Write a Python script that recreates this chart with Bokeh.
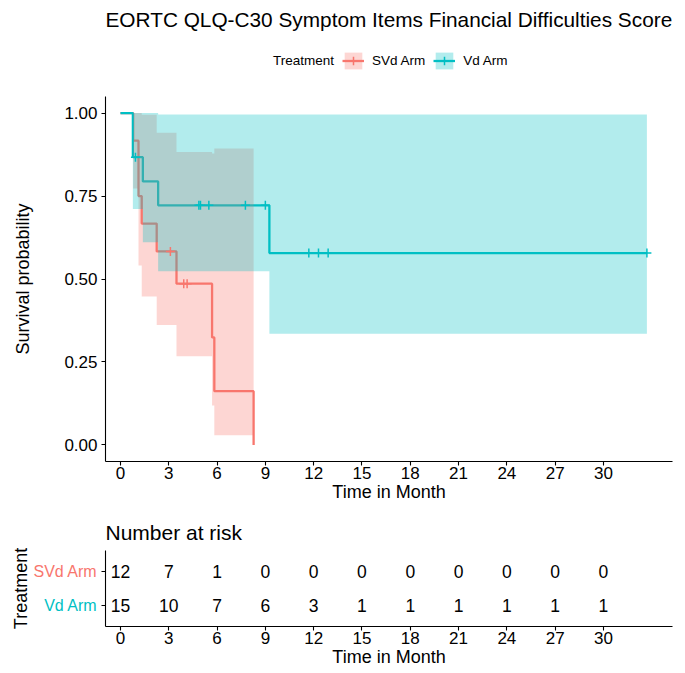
from bokeh.plotting import figure
from bokeh.models import Range1d, FixedTicker, Legend, LegendItem, NumeralTickFormatter
from bokeh.layouts import column, row
from bokeh.embed import file_html
from bokeh.resources import INLINE
from bokeh.core.properties import value

FONT = "Liberation Sans"
RED = "#F8766D"
TEAL = "#00BFC4"

groups = ["SVd Arm", "Vd Arm"]
colors = [RED, TEAL]

# SVd Arm: Kaplan-Meier steps (time in months, survival, 95% CI)
svd_time = [0, 0.79, 1.12, 1.32, 2.25, 3.48, 5.69, 5.83, 8.27]
svd_surv = [1.0, 0.917, 0.750, 0.667, 0.583, 0.486, 0.324, 0.162, 0.0]
svd_lower = [1.0, 0.773, 0.541, 0.447, 0.361, 0.267, 0.119, 0.029]
svd_upper = [1.0, 1.0, 1.0, 0.995, 0.941, 0.883, 0.878, 0.893]
svd_cens_time = [3.10, 3.93, 4.14]
svd_cens_surv = [0.583, 0.486, 0.486]

# Vd Arm
vd_time = [0, 0.77, 1.39, 2.34, 9.25, 32.7]
vd_surv = [1.0, 0.867, 0.794, 0.722, 0.578, 0.578]
vd_lower = [1.0, 0.711, 0.611, 0.523, 0.335]
vd_upper = [1.0, 1.0, 1.0, 0.996, 0.996]
vd_cens_time = [0.93, 4.87, 4.97, 5.49, 7.76, 9.0, 11.7, 12.3, 12.9, 32.7]
vd_cens_surv = [0.867, 0.722, 0.722, 0.722, 0.722, 0.722, 0.578, 0.578, 0.578, 0.578]

# Number at risk table
risk_times = [0, 3, 6, 9, 12, 15, 18, 21, 24, 27, 30]
svd_risk = [12, 7, 1, 0, 0, 0, 0, 0, 0, 0, 0]
vd_risk = [15, 10, 7, 6, 3, 1, 1, 1, 1, 1, 1]
risk_rows = [2, 1]  # row positions: SVd on top, Vd below

y_ticks = [0, 0.25, 0.5, 0.75, 1.0]

X0, X1 = -0.93, 34.29

series = [
    dict(name=groups[0], col=RED, t=svd_time, s=svd_surv, lo=svd_lower, up=svd_upper,
         ct=svd_cens_time, cs=svd_cens_surv),
    dict(name=groups[1], col=TEAL, t=vd_time, s=vd_surv, lo=vd_lower, up=vd_upper,
         ct=vd_cens_time, cs=vd_cens_surv),
]


def clean(fig):
    fig.xgrid.visible = False
    fig.ygrid.visible = False
    fig.outline_line_color = None


def style_axis(ax):
    ax.axis_line_color = "black"
    ax.axis_line_width = 1.1
    ax.major_tick_line_color = "black"
    ax.major_tick_line_width = 1.1
    ax.major_tick_in = 0
    ax.major_tick_out = 4
    ax.minor_tick_line_color = None
    ax.major_label_text_font = FONT
    ax.major_label_text_font_size = "17px"
    ax.major_label_text_color = "black"
    ax.major_label_standoff = 4
    ax.axis_label_text_font = FONT
    ax.axis_label_text_font_size = "18px"
    ax.axis_label_text_font_style = "normal"
    ax.axis_label_text_color = "black"


def style_xaxis(fig):
    style_axis(fig.xaxis[0])
    fig.xaxis[0].ticker = FixedTicker(ticks=risk_times)
    fig.xaxis[0].axis_label = "Time in Month"
    fig.xaxis[0].major_label_standoff = 1
    fig.xaxis[0].axis_label_standoff = 0


def draw_curves(fig):
    lines = [fig.step(d["t"], d["s"], mode="after", line_color=d["col"], line_width=2.3)
             for d in series]
    bands = [fig.varea_step(x=d["t"], y1=d["lo"] + [d["lo"][-1]], y2=d["up"] + [d["up"][-1]],
                            step_mode="after", fill_color=d["col"], fill_alpha=0.3)
             for d in series]
    crosses = [fig.scatter(d["ct"], d["cs"], marker="cross", size=9, line_color=d["col"],
                           line_width=1.5) for d in series]
    return [[bands[i], lines[i], crosses[i]] for i in range(len(series))]


# ---------------- header: title + legend ----------------
# (the curves are drawn again here, below the visible range, only to feed the legend keys)
h = figure(width=684, height=88, x_range=Range1d(X0, X1), y_range=Range1d(2, 3),
           output_backend="svg", toolbar_location=None,
           min_border_left=105, min_border_right=0, min_border_top=0, min_border_bottom=0)
h.title.text = "EORTC QLQ-C30 Symptom Items Financial Difficulties Score"
h.title.text_font = FONT
h.title.text_font_size = "20.8px"
h.title.text_font_style = "normal"
h.title.text_color = "black"
h.title.align = "left"
h.axis.visible = False
clean(h)

dummy = h.scatter(svd_cens_time, svd_cens_surv, marker="square", size=1,
                  fill_alpha=0, line_alpha=0)
items = [LegendItem(label="Treatment", renderers=[dummy])]
for d, rends in zip(series, draw_curves(h)):
    items.append(LegendItem(label=d["name"], renderers=rends))
legend = Legend(items=items, orientation="horizontal", location=(138, 16.8),
                label_text_font=FONT, label_text_font_size="13.5px", label_text_color="black",
                glyph_width=22, glyph_height=21, label_standoff=8, spacing=8,
                padding=0, margin=0, border_line_color=None, background_fill_alpha=0)
h.add_layout(legend)

# ---------------- main survival plot ----------------
p = figure(width=680, height=420, x_range=Range1d(X0, X1), y_range=Range1d(-0.05, 1.05),
           output_backend="svg", toolbar_location=None,
           min_border_left=105, min_border_right=8, min_border_top=8, min_border_bottom=47)
clean(p)
style_xaxis(p)
style_axis(p.yaxis[0])
p.yaxis[0].ticker = FixedTicker(ticks=y_ticks)
p.yaxis[0].formatter = NumeralTickFormatter(format="0.00")
p.yaxis[0].axis_label = "Survival probability"
p.yaxis[0].axis_label_standoff = 28
draw_curves(p)

# ---------------- number at risk: row labels ----------------
lab = figure(width=97, height=165, x_range=Range1d(0, 1), y_range=Range1d(0.4, 2.6),
             output_backend="svg", toolbar_location=None,
             min_border_left=30, min_border_right=0, min_border_top=42, min_border_bottom=47)
clean(lab)
lab.xaxis.visible = False
ya = lab.yaxis[0]
ya.axis_line_color = None
ya.major_tick_line_color = None
ya.minor_tick_line_color = None
ya.major_tick_out = 0
ya.major_label_standoff = 0
ya.ticker = FixedTicker(ticks=risk_rows)
ya.major_label_overrides = {1: "", 2: ""}
ya.axis_label = "Treatment"
ya.axis_label_standoff = 0
ya.axis_label_text_font = FONT
ya.axis_label_text_font_size = "18px"
ya.axis_label_text_font_style = "normal"
ya.axis_label_text_color = "black"
lab.text(x=[1, 1], y=risk_rows, text=groups, text_color=colors,
         text_font=value(FONT), text_font_size="16px", text_align="right",
         text_baseline="middle")

# ---------------- number at risk table ----------------
q = figure(width=583, height=165, x_range=Range1d(X0, X1), y_range=Range1d(0.4, 2.6),
           output_backend="svg", toolbar_location=None,
           min_border_left=8, min_border_right=8, min_border_top=42, min_border_bottom=47)
q.title.text = "Number at risk"
q.title.text_font = FONT
q.title.text_font_size = "21px"
q.title.text_font_style = "normal"
q.title.text_color = "black"
q.title.align = "left"
q.title.standoff = 14
clean(q)
style_xaxis(q)
style_axis(q.yaxis[0])
q.yaxis[0].ticker = FixedTicker(ticks=risk_rows)
q.yaxis[0].major_label_overrides = {1: "", 2: ""}
q.yaxis[0].major_label_standoff = 0

for yv, counts in zip(risk_rows, [svd_risk, vd_risk]):
    q.text(x=risk_times, y=[yv] * len(risk_times), text=[str(v) for v in counts],
           text_font=value(FONT), text_font_size="17.5px", text_align="center",
           text_baseline="middle", text_color="black")

layout = column(h, p, row(lab, q, spacing=0), spacing=0)
open("out.html", "w").write(file_html(layout, INLINE))
